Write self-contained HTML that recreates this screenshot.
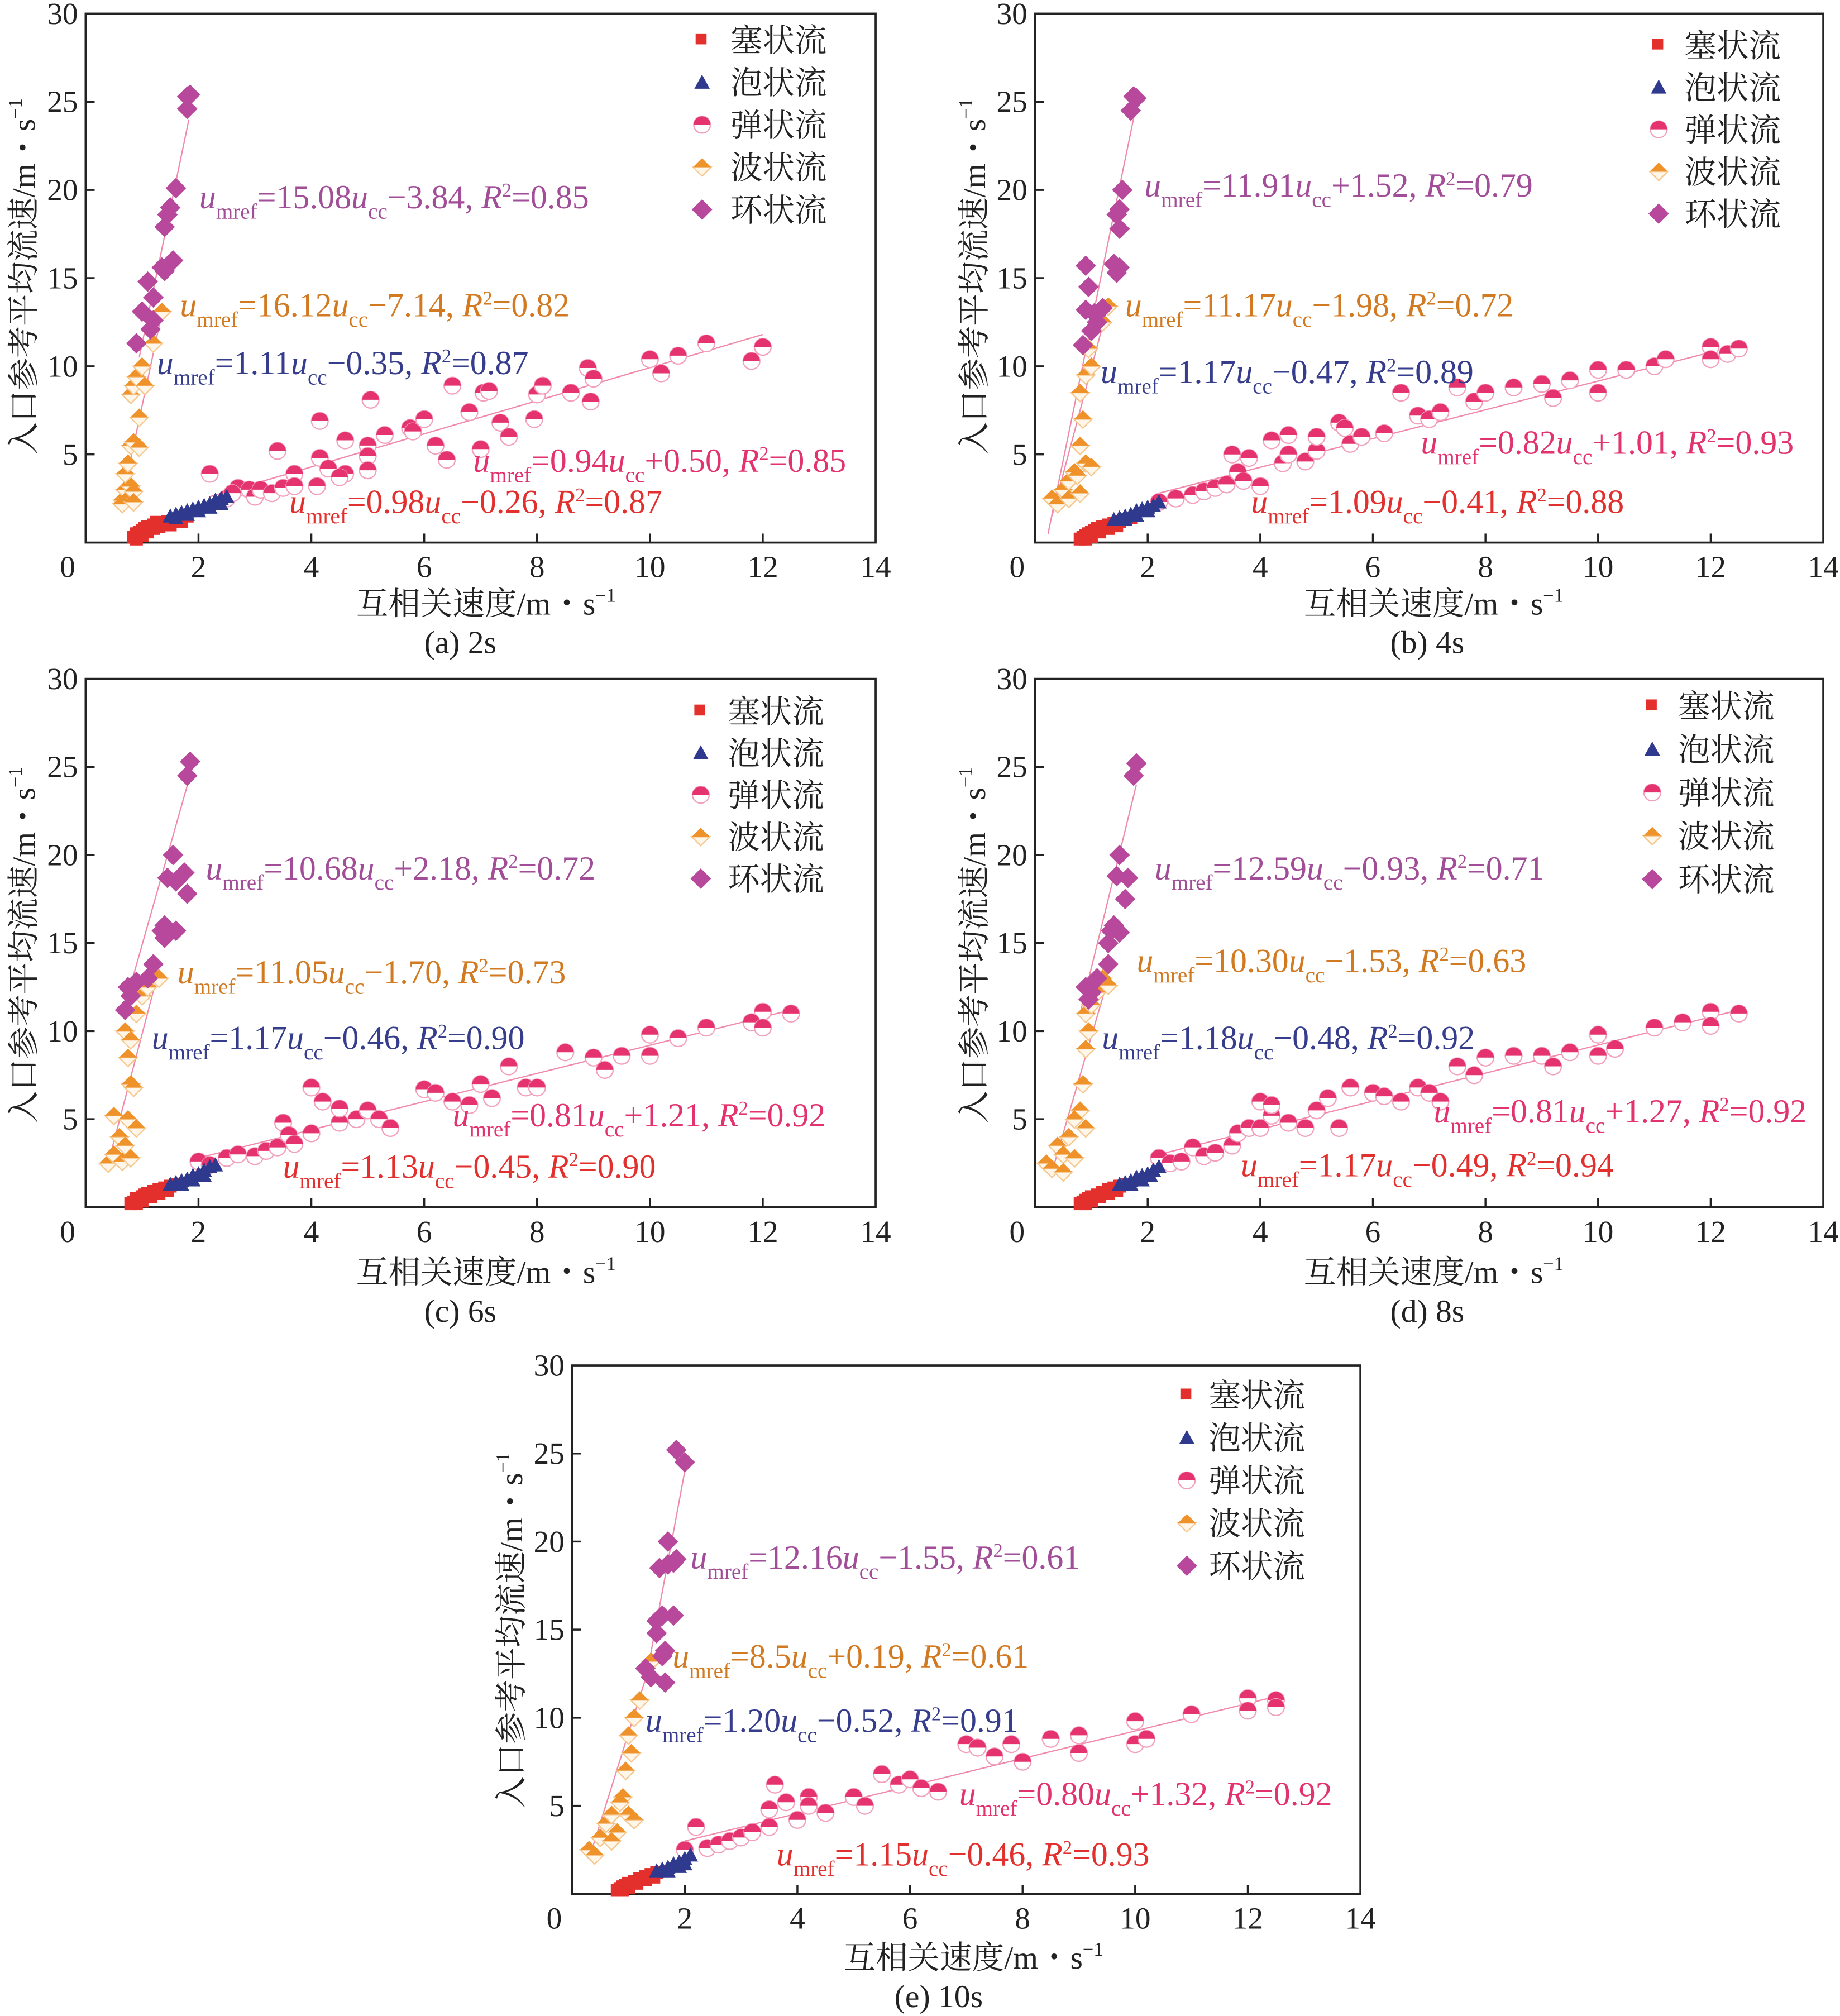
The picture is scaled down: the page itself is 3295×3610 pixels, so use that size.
<!DOCTYPE html>
<html><head><meta charset="utf-8"><style>
html,body{margin:0;padding:0;background:#fff;}
svg{display:block;}
text{font-family:"Liberation Serif","Noto Serif CJK SC","Noto Sans CJK SC",serif;}
</style></head><body>
<svg id="fig" xmlns="http://www.w3.org/2000/svg" width="3295" height="3610" viewBox="0 0 1431 1568" preserveAspectRatio="none">
<rect x="0" y="0" width="1431" height="1568" fill="#fff"/>
</svg>
<script>
// ---------- data (values in m/s) ----------
const xTicks=[0,2,4,6,8,10,12,14];
const yTicks=[5,10,15,20,25,30];
const legendLabels=["塞状流","泡状流","弹状流","波状流","环状流"];
const captions=["(a) 2s","(b) 4s","(c) 6s","(d) 8s","(e) 10s"];
// equations: [coef, sign, intercept, r2]
const eqA=[["15.08","−","3.84","0.85"],["16.12","−","7.14","0.82"],["1.11","−","0.35","0.87"],["0.94","+","0.50","0.85"],["0.98","−","0.26","0.87"]];
const eqB=[["11.91","+","1.52","0.79"],["11.17","−","1.98","0.72"],["1.17","−","0.47","0.89"],["0.82","+","1.01","0.93"],["1.09","−","0.41","0.88"]];
const eqC=[["10.68","+","2.18","0.72"],["11.05","−","1.70","0.73"],["1.17","−","0.46","0.90"],["0.81","+","1.21","0.92"],["1.13","−","0.45","0.90"]];
const eqD=[["12.59","−","0.93","0.71"],["10.30","−","1.53","0.63"],["1.18","−","0.48","0.92"],["0.81","+","1.27","0.92"],["1.17","−","0.49","0.94"]];
const eqE=[["12.16","−","1.55","0.61"],["8.5","+","0.19","0.61"],["1.20","−","0.52","0.91"],["0.80","+","1.32","0.92"],["1.15","−","0.46","0.93"]];

const plugA=[[0.85,0.3],[0.9,0.5],[0.95,0.6],[1.0,0.7],[1.05,0.8],[1.1,0.9],[1.2,1.0],[1.3,1.1],[1.4,1.1],[1.5,1.2],[1.6,1.3],[1.7,1.4],[1.8,1.5],[0.9,0.2],[1.0,0.4],[1.1,0.6],[1.2,0.8],[1.3,0.9],[1.5,1.0],[1.7,1.2],[1.25,1.15],[1.45,1.2]];
const bubbleA=[[1.5,1.5],[1.6,1.6],[1.7,1.7],[1.8,1.8],[1.9,1.9],[2.0,2.0],[2.1,2.1],[2.2,2.2],[2.3,2.4],[2.4,2.5],[2.5,2.6],[1.6,1.4],[1.8,1.6],[2.0,1.8],[2.2,2.0],[2.4,2.2]];
const slugA=[[2.2,3.9],[3.4,5.2],[3.7,3.9],[4.15,6.9],[4.15,4.8],[4.3,4.2],[4.6,5.8],[4.6,3.9],[4.5,3.7],[5.05,8.1],[5,5.5],[5,4.9],[5,4.1],[4.1,3.2],[5.3,6.1],[5.75,6.5],[5.8,6.3],[6,7.0],[6.2,5.5],[6.4,4.7],[6.5,8.9],[6.8,7.4],[7.0,5.3],[7.05,8.5],[7.15,8.6],[7.35,6.8],[7.5,6.0],[7.95,7.0],[8,8.4],[8.1,8.9],[8.6,8.5],[8.9,9.9],[9,9.3],[8.95,8.0],[10.0,10.4],[10.2,9.6],[10.5,10.6],[11,11.3],[11.8,10.3],[12,11.1],[2.5,2.5],[2.7,3.1],[2.9,3.0],[3.0,2.6],[3.1,3.0],[3.3,2.8],[3.5,3.1],[3.7,3.2],[2.6,2.8]];
const waveA=[[0.65,2.4],[0.7,3.0],[0.75,2.5],[0.8,3.2],[0.85,2.9],[0.7,3.9],[0.75,4.5],[0.8,5.5],[0.85,5.7],[0.95,5.4],[0.95,7.1],[0.8,8.4],[0.85,8.9],[0.9,9.4],[1.05,8.9],[1.0,10.0],[1.2,11.3],[1.35,13.1],[0.65,2.2],[0.85,2.3]];
const annA=[[0.9,11.3],[1.0,13.1],[1.1,14.8],[1.15,12.1],[1.2,13.9],[1.35,15.6],[1.4,15.4],[1.55,16.0],[1.4,17.9],[1.45,18.6],[1.5,19.0],[1.6,20.1],[1.8,24.6],[1.8,25.3],[1.85,25.4],[1.2,12.6]];
const fitA=[[0.95,10.5,1.83,24.0],[0.65,2.5,1.35,13.0],[1.5,1.4,2.5,2.5],[2.2,2.6,12,11.8],[0.8,0.2,2.0,1.6]];

const plugB=[[0.8,0.2],[0.85,0.3],[0.9,0.4],[0.95,0.5],[1.0,0.6],[1.05,0.7],[1.1,0.8],[1.2,0.9],[1.3,1.0],[1.4,1.1],[1.5,1.2],[1.6,1.3],[1.7,1.4],[0.9,0.2],[1.0,0.35],[1.15,0.6],[1.3,0.8],[1.45,0.95]];
const bubbleB=[[1.4,1.3],[1.5,1.4],[1.6,1.5],[1.7,1.6],[1.8,1.8],[1.9,1.9],[2.0,2.0],[2.1,2.1],[2.2,2.3],[1.6,1.3],[1.8,1.55],[2.0,1.8]];
const slugB=[[2.2,2.3],[2.5,2.5],[2.8,2.7],[3.0,2.9],[3.2,3.1],[3.4,3.3],[3.5,5.0],[3.6,4.0],[3.7,3.5],[3.8,4.8],[4.0,3.2],[4.2,5.8],[4.4,4.5],[4.5,6.1],[4.5,5.0],[4.8,4.6],[5.0,5.2],[5.0,6.0],[5.4,6.8],[5.5,6.5],[5.6,5.6],[5.8,6.0],[6.2,6.2],[6.5,8.5],[6.8,7.2],[7.0,7.0],[7.2,7.4],[7.5,8.8],[7.8,8.0],[8.0,8.5],[8.5,8.8],[9.0,9.0],[9.2,8.2],[9.5,9.2],[10.0,9.8],[10.0,8.5],[10.5,9.8],[11.0,10.0],[11.2,10.4],[12.0,11.1],[12.0,10.4],[12.3,10.7],[12.5,11.0]];
const waveB=[[0.3,2.5],[0.4,2.2],[0.5,3.0],[0.6,2.5],[0.6,3.5],[0.7,4.0],[0.8,2.8],[0.75,3.8],[0.8,5.5],[0.9,4.5],[1.0,4.3],[0.85,7.0],[0.8,8.5],[0.9,9.5],[1.0,10.0],[0.95,11.0],[1.0,12.0],[1.2,12.5],[1.1,13.0],[1.3,13.4]];
const annB=[[0.85,11.2],[0.9,13.2],[0.95,14.5],[0.9,15.7],[1.0,12.0],[1.05,13.0],[1.1,12.5],[1.2,13.3],[1.4,15.8],[1.45,15.3],[1.5,15.6],[1.45,18.6],[1.5,18.9],[1.5,17.8],[1.55,20.0],[1.7,24.5],[1.8,25.2],[1.75,25.3]];
const fitB=[[0.23,0.5,1.83,25.3],[0.3,1.5,1.3,13.5],[1.4,1.2,2.2,2.2],[2.2,2.8,12.5,11.2],[0.8,0.2,1.7,1.4]];

const plugC=[[0.8,0.2],[0.85,0.3],[0.9,0.5],[0.95,0.5],[1.0,0.6],[1.05,0.7],[1.1,0.8],[1.2,0.9],[1.3,1.0],[1.4,1.1],[1.5,1.2],[1.6,1.3],[0.9,0.2],[1.0,0.35],[1.15,0.6],[1.3,0.8],[1.45,0.95]];
const bubbleC=[[1.5,1.3],[1.6,1.4],[1.7,1.5],[1.8,1.6],[1.9,1.8],[2.0,1.9],[2.1,2.1],[2.2,2.3],[2.3,2.4],[1.7,1.3],[1.9,1.55],[2.1,1.8]];
const slugC=[[2.0,2.6],[2.2,2.4],[2.5,2.8],[2.7,3.0],[3.0,2.9],[3.2,3.2],[3.4,3.4],[3.5,4.8],[3.6,4.1],[3.7,3.6],[4.0,6.8],[4.0,4.2],[4.2,6.0],[4.5,4.8],[4.5,5.6],[4.8,5.0],[5.0,5.5],[5.2,5.0],[5.4,4.5],[6.0,6.7],[6.2,6.5],[6.5,6.0],[6.8,5.8],[7.0,7.0],[7.2,6.2],[7.5,8.0],[7.8,6.8],[8.0,6.8],[8.5,8.8],[9.0,8.5],[9.2,7.8],[9.5,8.6],[10.0,9.8],[10.0,8.6],[10.5,9.6],[11.0,10.2],[12.0,11.1],[11.8,10.5],[12.0,10.2],[12.5,11.0]];
const waveC=[[0.4,2.5],[0.5,3.0],[0.5,5.2],[0.6,4.0],[0.65,2.6],[0.7,3.5],[0.75,5.0],[0.8,2.8],[0.9,4.5],[0.8,7.0],[0.75,8.5],[0.7,10.0],[0.8,9.5],[0.9,11.0],[1.0,12.0],[1.1,12.5],[1.2,13.2],[1.3,13.0],[0.85,6.8]];
const annC=[[0.7,11.2],[0.75,12.5],[0.8,12.0],[0.9,12.8],[1.1,13.0],[1.2,13.8],[1.35,15.7],[1.4,15.3],[1.4,16.0],[1.45,18.7],[1.55,20.0],[1.75,19.0],[1.6,18.5],[1.6,15.7],[1.8,17.8],[1.8,24.5],[1.85,25.3]];
const fitC=[[0.7,11.5,1.85,24.5],[0.4,2.5,1.3,13.5],[1.5,1.3,2.3,2.4],[2.0,2.8,12.5,11.2],[0.8,0.2,1.6,1.3]];

const plugD=[[0.8,0.2],[0.85,0.3],[0.9,0.4],[0.95,0.5],[1.0,0.6],[1.1,0.7],[1.2,0.85],[1.3,1.0],[1.4,1.1],[1.5,1.2],[1.6,1.3],[0.9,0.2],[1.0,0.35],[1.15,0.6],[1.3,0.8],[1.45,0.95]];
const bubbleD=[[1.5,1.3],[1.6,1.4],[1.7,1.5],[1.8,1.7],[1.9,1.8],[2.0,1.9],[2.1,2.1],[2.2,2.3],[1.7,1.3],[1.9,1.55],[2.05,1.8]];
const slugD=[[2.2,2.8],[2.4,2.5],[2.6,2.6],[2.8,3.4],[3.0,2.9],[3.2,3.1],[3.5,3.5],[3.6,4.2],[3.8,4.5],[4.0,6.0],[4.0,4.5],[4.2,5.2],[4.2,5.8],[4.5,4.8],[4.8,4.5],[5.0,5.5],[5.2,6.2],[5.4,4.5],[5.6,6.8],[6.0,6.5],[6.2,6.3],[6.5,6.0],[6.8,6.8],[7.0,6.5],[7.2,6.0],[7.5,8.0],[7.8,7.5],[8.0,8.5],[8.5,8.6],[9.0,8.6],[9.2,8.0],[9.5,8.8],[10.0,9.8],[10.0,8.6],[10.3,9.0],[11.0,10.2],[11.5,10.5],[12.0,11.1],[12.0,10.3],[12.5,11.0]];
const waveD=[[0.2,2.5],[0.3,2.2],[0.4,3.5],[0.5,3.0],[0.5,2.0],[0.6,4.0],[0.7,2.8],[0.8,5.5],[0.9,4.5],[0.85,7.0],[0.9,9.0],[0.95,10.0],[0.9,11.0],[1.0,11.5],[1.1,12.2],[1.2,13.0],[1.3,12.6],[0.7,5.0]];
const annD=[[0.9,12.5],[0.95,11.8],[1.0,12.2],[1.1,13.0],[1.3,13.8],[1.3,15.0],[1.35,15.7],[1.5,15.6],[1.4,16.0],[1.45,18.8],[1.5,20.0],[1.65,18.7],[1.6,17.5],[1.75,24.5],[1.8,25.2]];
const fitD=[[0.8,11.0,1.8,24.0],[0.3,2.0,1.3,13.0],[1.5,1.3,2.2,2.3],[2.2,3.0,12.5,11.2],[0.8,0.2,1.6,1.3]];

const plugE=[[0.8,0.2],[0.85,0.3],[0.9,0.4],[0.95,0.5],[1.0,0.6],[1.1,0.7],[1.2,0.85],[1.3,1.0],[1.4,1.1],[1.5,1.2],[0.9,0.2],[1.0,0.35],[1.15,0.6],[1.3,0.8],[1.45,0.95]];
const bubbleE=[[1.5,1.3],[1.6,1.4],[1.7,1.5],[1.8,1.7],[1.9,1.8],[2.0,2.0],[2.1,2.2],[1.7,1.3],[1.9,1.55],[2.0,1.7]];
const slugE=[[2.0,2.5],[2.2,3.8],[2.4,2.6],[2.6,2.8],[2.8,3.0],[3.0,3.2],[3.2,3.5],[3.5,3.8],[3.5,4.8],[3.6,6.2],[3.8,5.2],[4.0,4.2],[4.2,5.5],[4.2,5.0],[4.5,4.6],[5.0,5.5],[5.2,5.0],[5.5,6.8],[5.8,6.2],[6.0,6.5],[6.2,6.0],[6.5,5.8],[7.0,8.5],[7.2,8.3],[7.5,7.8],[7.8,8.5],[8.0,7.5],[8.5,8.8],[9.0,9.0],[9.0,8.0],[10.0,9.8],[10.0,8.5],[10.2,8.8],[11.0,10.2],[12.0,11.1],[12.0,10.4],[12.5,11.0],[12.5,10.6]];
const waveE=[[0.3,2.5],[0.4,2.2],[0.5,3.2],[0.6,4.0],[0.7,4.5],[0.8,3.5],[1.0,4.5],[1.1,4.2],[0.9,5.5],[0.85,5.2],[0.95,7.0],[1.0,9.0],[1.1,10.0],[1.2,11.0],[1.3,12.8],[1.4,13.2],[1.05,8.0],[0.7,3.0]];
const annE=[[1.3,12.8],[1.4,12.3],[1.5,15.5],[1.5,14.8],[1.6,15.8],[1.65,13.8],[1.65,12.0],[1.7,18.7],[1.7,20.0],[1.8,18.8],[1.8,15.8],[1.85,19.0],[1.85,25.2],[2.0,24.5],[1.55,18.5],[1.6,13.5]];
const fitE=[[1.3,12.0,2.0,24.0],[0.3,2.0,1.4,13.2],[1.5,1.3,2.1,2.2],[2.0,3.0,12.5,11.2],[0.8,0.2,1.5,1.2]];

// ---------- layout ----------
const NS="http://www.w3.org/2000/svg";
const svg=document.getElementById('fig');
function el(tag,attrs,parent){const e=document.createElementNS(NS,tag);for(const k in attrs)e.setAttribute(k,attrs[k]);(parent||svg).appendChild(e);return e;}
const eqColors=["#a24d98","#d27a22","#363d8c","#e2336c","#e2302e"];
const panels=[
 {L:66.6,T:10.6,R:681,B:422,data:[plugA,bubbleA,slugA,waveA,annA],fits:fitA,eq:eqA,
  eqPos:[[155,162],[140,246],[122,291],[368,367],[225,399]],leg:[546,568,31,33],yT:[18,215],xT:[378,478],cap:[358,508]},
 {L:805,T:10.6,R:1418,B:422,data:[plugB,bubbleB,slugB,waveB,annB],fits:fitB,eq:eqB,
  eqPos:[[890,153],[875,246],[856,298],[1105,353],[973,399]],leg:[1290,1310,35,32.8],yT:[757,215],xT:[1115,478],cap:[1110,508]},
 {L:66.6,T:528,R:681,B:939,data:[plugC,bubbleC,slugC,waveC,annC],fits:fitC,eq:eqC,
  eqPos:[[160,684],[138,765],[118,816],[352,876],[220,916]],leg:[545,566,553,32.6],yT:[18,735],xT:[378,998],cap:[358,1028]},
 {L:805,T:528,R:1418,B:939,data:[plugD,bubbleD,slugD,waveD,annD],fits:fitD,eq:eqD,
  eqPos:[[898,684],[884,756],[857,816],[1115,873],[965,915]],leg:[1285,1305,549,33.7],yT:[757,735],xT:[1115,998],cap:[1110,1028]},
 {L:445,T:1062,R:1058,B:1473,data:[plugE,bubbleE,slugE,waveE,annE],fits:fitE,eq:eqE,
  eqPos:[[537,1220],[523,1297],[502,1347],[746,1404],[604,1451]],leg:[923,940,1085,33.2],yT:[397,1268],xT:[757,1531],cap:[730,1561]}
];
const names=["a","b","c","d","e"];

function marker(g,type,cx,cy,size){
  let m;
  if(type===0){m=el('rect',{x:cx-5,y:cy-5,width:10*size,height:10*size,fill:'#e3302c'},g);}
  else if(type===1){m=el('polygon',{points:`${cx-6},${cy+5} ${cx+6},${cy+5} ${cx},${cy-6}`,fill:'#2f3a8e'},g);}
  else if(type===2){m=el('g',{},g);
    el('circle',{cx:cx,cy:cy,r:6.5,fill:'#fff',stroke:'#f3a0bc','stroke-width':1},m);
    el('path',{d:`M${cx-6.5},${cy} A6.5,6.5 0 0 1 ${cx+6.5},${cy} Z`,fill:'#e4336f'},m);}
  else if(type===3){m=el('g',{},g);
    el('polygon',{points:`${cx-7},${cy} ${cx},${cy+7} ${cx+7},${cy}`,fill:'#fff6ea',stroke:'#f6c78e','stroke-width':1},m);
    el('polygon',{points:`${cx-7},${cy} ${cx},${cy-7} ${cx+7},${cy}`,fill:'#f0922a'},m);}
  else {m=el('polygon',{points:`${cx-8},${cy} ${cx},${cy-8} ${cx+8},${cy} ${cx},${cy+8}`,fill:'#b8489b'},g);}
  return m;
}

panels.forEach((p,pi)=>{
  const g=el('g',{});
  
  
  const sx=v=>p.L+(p.R-p.L)*v/14;
  const sy=v=>p.B-(p.B-p.T)*v/30;
  const frame=el('rect',{x:p.L,y:p.T,width:p.R-p.L,height:p.B-p.T,fill:'none',stroke:'#222','stroke-width':1.6},g);
  
  
  xTicks.forEach(v=>{
    if(v>0&&v<14){const t=el('line',{x1:sx(v),x2:sx(v),y1:p.B,y2:p.B-7,stroke:'#222','stroke-width':1.5},g);
      }
    const lb=el('text',{x:v===0?sx(0)-14:sx(v),y:p.B+27,'font-size':24,'text-anchor':'middle',fill:'#222'},g);
    lb.textContent=v;
    
    
  });
  yTicks.forEach(v=>{
    if(v<30){const t=el('line',{x1:p.L,x2:p.L+7,y1:sy(v),y2:sy(v),stroke:'#222','stroke-width':1.5},g);
      }
    const lb=el('text',{x:p.L-6,y:sy(v)+8,'font-size':24,'text-anchor':'end',fill:'#222'},g);
    lb.textContent=v;
    
    
  });
  // fit lines
  p.fits.forEach((f,i)=>{
    const ln=el('line',{x1:sx(f[0]),y1:sy(f[1]),x2:sx(f[2]),y2:sy(f[3]),stroke:'#f08aa8','stroke-width':1},g);
    
    
  });
  // points
  [0,2,3,1,4].forEach(s=>{
    p.data[s].forEach(pt=>{
      const m=marker(g,s,sx(pt[0]),sy(pt[1]),1);
      
      
    });
  });
  // equations
  p.eq.forEach((e,i)=>{
    const t=el('text',{x:p.eqPos[i][0],y:p.eqPos[i][1],'font-size':26,fill:eqColors[i]},g);
    
    
    t.innerHTML=`<tspan font-style="italic">u</tspan><tspan font-size="17" dy="8">mref</tspan><tspan dy="-8">=${e[0]}</tspan><tspan font-style="italic">u</tspan><tspan font-size="17" dy="8">cc</tspan><tspan dy="-8">${e[1]}${e[2]}, </tspan><tspan font-style="italic">R</tspan><tspan font-size="15" dy="-9">2</tspan><tspan dy="9">=${e[3]}</tspan>`;
  });
  // legend
  legendLabels.forEach((lab,i)=>{
    const y=p.leg[2]+i*p.leg[3];
    const m=marker(g,i,p.leg[0],y,0.85);
    
    
    const t=el('text',{x:p.leg[1],y:y+9,'font-size':25,fill:'#222'},g);
    t.textContent=lab;
    
    
  });
  // axis titles
  const yt=el('text',{x:p.yT[0],y:p.yT[1],'font-size':25,'text-anchor':'middle',fill:'#222',transform:`rotate(-90 ${p.yT[0]} ${p.yT[1]})`,dy:9},g);
  yt.innerHTML='入口参考平均流速/m・s<tspan font-size="15" dy="-10">−1</tspan>';
  
  
  const xt=el('text',{x:p.xT[0],y:p.xT[1],'font-size':25,'text-anchor':'middle',fill:'#222'},g);
  xt.innerHTML='互相关速度/m・s<tspan font-size="15" dy="-10">−1</tspan>';
  
  
  const cp=el('text',{x:p.cap[0],y:p.cap[1],'font-size':25,'text-anchor':'middle',fill:'#222'},g);
  cp.textContent=captions[pi];
  
  
});
</script>
</body></html>
